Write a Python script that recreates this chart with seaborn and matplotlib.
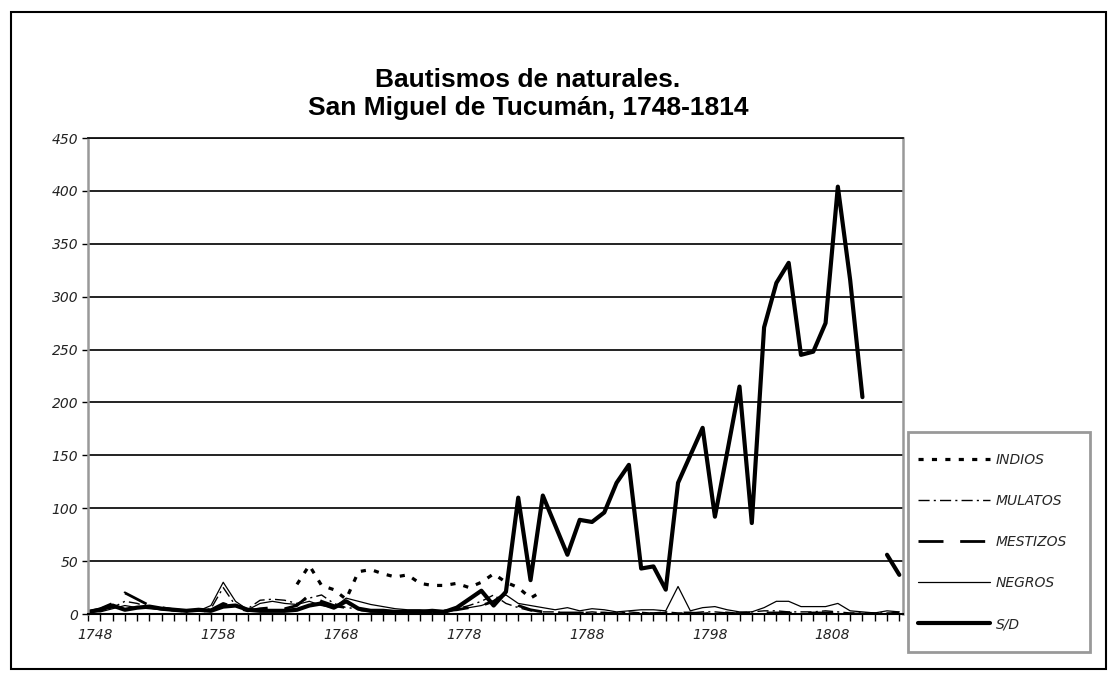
import numpy as np
import pandas as pd
import seaborn as sns
from matplotlib import pyplot as plt
from matplotlib import transforms
from matplotlib.lines import Line2D
from matplotlib.patches import Rectangle

# Años de la serie
anios = list(range(1748, 1815))

# Bautismos por categoría (None = sin dato)
indios = [None] * 17 + [28, 46, 27, 23, 14, 40, 42, 38, 35, 37, 29, 27, 27, 29, 25,
                        30, 38, 30, 25, 15, 22] + [None] * 29
mulatos = [1, 3, 6, 12, 10, 6, 4, 3, 2, 3, 5, 25, 8, 5, 13, 14, 13, 10, 15, 18,
           10, 6, 5, 4, 3, 2, 2, 1, 2, 3, 5, 8, 12, 18, 10, 6, 3, 2, 2, 1,
           1, 2, 1, 1, 2, 1, 1, 2, 1, 1, 2, 2, 1, 1, 2, 3, 3, 2, 2, 2,
           3, 2, 1, 1, 1, 1, 1]
mestizos = [2, 5, 10, 20, 14, 8, 6, 4, 3, 2, 4, 10, 6, 3, 5, 6, 5, 8, 18, 12,
            8, 6, 4, 3, 2, 1, 1, 1, 2, 3, 4, 6, 8, 12, 20, 8, 4, 2, 1, 1,
            1, 1, 1, 0, 1, 1, 0, 1, 1, 1, 0, 1, 1, 0, 1, 1, 1, 1, 0, 1,
            1, 1, 0, 0, 0, 0, 1]
negros = [3, 2, 5, 8, 6, 5, 4, 3, 4, 3, 8, 30, 12, 4, 10, 12, 10, 9, 12, 8,
          6, 15, 12, 9, 7, 5, 4, 4, 3, 2, 4, 6, 8, 12, 18, 10, 8, 6, 4, 6,
          3, 5, 4, 2, 3, 4, 4, 3, 26, 3, 6, 7, 4, 2, 2, 6, 12, 12, 7, 7,
          7, 10, 3, 2, 1, 3, 2]
sin_dato = [2, 4, 8, 4, 6, 7, 5, 4, 3, 4, 3, 7, 8, 4, 3, 3, 3, 4, 8, 10,
            6, 12, 5, 3, 3, 2, 2, 2, 3, 2, 6, 14, 22, 8, 21, 110, 32, 112, 84, 56,
            89, 87, 96, 124, 141, 43, 45, 23, 124, 150, 176, 92, 153, 215, 86, 271, 313, 332, 245, 248,
            275, 404, 316, 205, None, 56, 37]

nombres = ["INDIOS", "MULATOS", "MESTIZOS", "NEGROS", "S/D"]
valores = [indios, mulatos, mestizos, negros, sin_dato]

estilos = {
    "INDIOS": dict(lw=2.3, ls=(0, (1.6, 2.6))),
    "MULATOS": dict(lw=1.0, ls=(0, (8, 3, 1.5, 3))),
    "MESTIZOS": dict(lw=2.0, ls=(0, (9, 6))),
    "NEGROS": dict(lw=0.9, ls="-"),
    "S/D": dict(lw=3.0, ls="-"),
}

# tabla larga; "tramo" separa los huecos sin dato
filas = []
for nombre, vals in zip(nombres, valores):
    tramo = 0
    for i, v in enumerate(vals):
        if v is None:
            tramo += 1
            continue
        filas.append({"serie": nombre, "idx": i, "anio": anios[i], "valor": v, "tramo": tramo})
df = pd.DataFrame(filas)

sns.set_style("white")
plt.rcParams["font.family"] = ["Liberation Sans", "DejaVu Sans"]

W, H = 1117, 680
fig = plt.figure(figsize=(W / 100, H / 100), dpi=100)
ax = fig.add_axes([88 / W, 1 - 614 / H, 815 / W, 476 / H])

for nombre in nombres:
    sub = df[df["serie"] == nombre]
    sns.lineplot(data=sub, x="idx", y="valor", units="tramo", estimator=None,
                 color="black", linewidth=estilos[nombre]["lw"],
                 linestyle=estilos[nombre]["ls"], ax=ax, legend=False)

fuente_ejes = {"family": "DejaVu Sans", "size": 10, "style": "italic"}

ax.set_xlim(0, 66.3)
ax.set_ylim(0, 450)
ax.set_yticks(range(0, 451, 50))
ax.set_yticklabels([str(v) for v in range(0, 451, 50)], fontdict=fuente_ejes, color="#222")
ax.set_xticks(range(0, 67, 10))
ax.set_xticklabels([str(anios[i]) for i in range(0, 67, 10)], fontdict=fuente_ejes, color="#222")
ax.set_xticks(range(0, 67), minor=True)
ax.tick_params(axis="x", which="both", direction="out", length=5, width=1, color="black", bottom=True, pad=5)
ax.tick_params(axis="y", direction="out", length=4, width=1, color="black", left=True, pad=3)
desplazar = transforms.ScaledTranslation(7 / 100, 0, fig.dpi_scale_trans)
for etiqueta in ax.get_xticklabels():
    etiqueta.set_transform(etiqueta.get_transform() + desplazar)
ax.set_xlabel("")
ax.set_ylabel("")
ax.grid(axis="y", color="#111", linewidth=1.3)
ax.grid(axis="x", visible=False)
ax.set_axisbelow(True)
for lado in ["left", "right"]:
    ax.spines[lado].set_color("#999")
    ax.spines[lado].set_linewidth(1.8)
ax.spines["top"].set_color("#111")
ax.spines["top"].set_linewidth(1.3)
ax.spines["bottom"].set_color("black")
ax.spines["bottom"].set_linewidth(1.5)

fig.text(528 / W, 1 - 80 / H, "Bautismos de naturales.", ha="center", va="center",
         fontsize=19, fontweight="bold", color="black")
fig.text(528 / W, 1 - 108 / H, "San Miguel de Tucumán, 1748-1814", ha="center", va="center",
         fontsize=19, fontweight="bold", color="black")

# recuadro de la leyenda
fig.patches.append(Rectangle((908 / W, 1 - 652 / H), 182 / W, 220 / H, transform=fig.transFigure,
                             facecolor="white", edgecolor="#999", linewidth=2, zorder=0))
manijas = [Line2D([0], [0], color="black", linewidth=estilos[n]["lw"], linestyle=estilos[n]["ls"])
           for n in nombres]
fig.legend(manijas, nombres, loc="upper left", bbox_to_anchor=(918 / W, 1 - 453 / H),
           frameon=False, prop=fuente_ejes, handlelength=5.2, labelspacing=1.95,
           borderpad=0, handletextpad=0.4, borderaxespad=0)

fig.patches.append(Rectangle((11 / W, 11 / H), 1095 / W, 657 / H,
                             transform=fig.transFigure, fill=False, edgecolor="black", linewidth=1.5))

fig.savefig("out.png", dpi=100)
